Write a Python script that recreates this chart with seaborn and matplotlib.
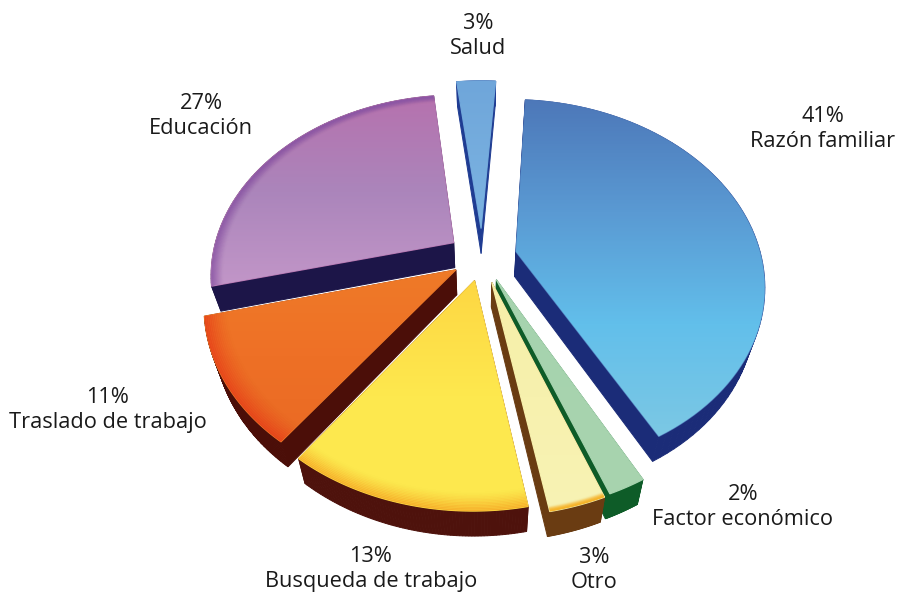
import numpy as np
import matplotlib
matplotlib.use('Agg')
import matplotlib.pyplot as plt
from matplotlib.patches import Polygon
import seaborn as sns

# Datos
categorias = ['Razón familiar', 'Factor económico', 'Otro', 'Busqueda de trabajo',
              'Traslado de trabajo', 'Educación', 'Salud']
valores = [41, 2, 3, 13, 11, 27, 3]

# Estilo de cada rebanada
explode = [0.14, 0.135, 0.14, 0.13, 0.125, 0.14, 0.16]
escala_radio = [0.985, 1.0, 1.0, 0.99, 0.98, 0.97, 1.0]
colores_cara = [['#4d78b9', '#5a9ad3', '#62bfeb', '#7cc8e4'],
                ['#a6d3ae', '#a8d4ae'],
                ['#f6efa8', '#f8f3b4'],
                ['#fdd743', '#fde84e', '#fde84e'],
                ['#ee7a28', '#ee7026', '#ea6a24'],
                ['#b672ae', '#ab85bb', '#c296c8'],
                ['#6fa6da', '#7cb4e2']]
colores_borde = [None, None, '#f5b020', '#f49a1c', '#e42c14', '#8a55a4', None]
ancho_borde = [0, 0, 0.02, 0.07, 0.09, 0.05, 0]
colores_lado = ['#1b2c78', '#0e5c28', '#6a3c12', '#4e120c', '#4b0e08', '#1c1548', '#1f3c92']
orden = [6, 5, 0, 4, 1, 2, 3]

# Etiquetas
pos_etiquetas = [(823, 129), (743, 507), (594, 570), (371, 569), (108, 410), (201, 116), (478, 36)]

CX, CY = 482, 257
RX, RY, K = 249, 182.8, 0.176
PROF = 25

def proyectar(p):
    # disco plano -> perspectiva en pixeles
    w = 1 + K * p[:, 1]
    return np.column_stack([CX + RX * p[:, 0] / w, CY - RY * p[:, 1] / w])

def extruir(q):
    return np.column_stack([q[:, 0] - (q[:, 0] - CX) * 0.035, q[:, 1] + PROF])

sns.set_theme(style='white')
plt.rcParams['font.family'] = ['Open Sans', 'DejaVu Sans']

fig = plt.figure(figsize=(9.01, 5.94), dpi=100)
ax = fig.add_axes([0, 0, 1, 1])
wedges, _ = ax.pie(valores, explode=explode, startangle=86, counterclock=False)

yy, xx = np.mgrid[0:594, 0:901]
for i in orden:
    w = wedges[i]
    w.set_visible(False)
    z = 3 + orden.index(i) * 3
    t = np.radians(np.linspace(w.theta1, w.theta2, 80))
    r = w.r * escala_radio[i]
    cx, cy = w.center
    disco = np.vstack([[cx, cy], np.column_stack([cx + r * np.cos(t), cy + r * np.sin(t)])])
    q = proyectar(disco)
    q2 = extruir(q)

    # lados
    n = len(q)
    for j in range(n):
        k = (j + 1) % n
        ax.add_patch(Polygon([q[j], q[k], q2[k], q2[j]], closed=True, fc=colores_lado[i],
                             ec=colores_lado[i], lw=0.7, zorder=z))

    # cara superior con degradado
    ax.add_patch(Polygon(q, closed=True, fc='none', ec=colores_cara[i][0], lw=0.9, zorder=z + 1))
    cara = Polygon(q, closed=True, transform=ax.transData, fc='none', ec='none')
    ax.add_patch(cara)
    g = (yy - q[:, 1].min()) / (q[:, 1].max() - q[:, 1].min())
    cmap = sns.blend_palette(colores_cara[i], as_cmap=True)
    im = ax.imshow(g, cmap=cmap, vmin=0, vmax=1, extent=(0, 901, 594, 0), aspect='auto',
                   zorder=z + 1, interpolation='bilinear')
    im.set_clip_path(cara)

    # borde exterior mas oscuro
    if colores_borde[i]:
        for d in np.linspace(0, 1, 14):
            rr = r * (1 - ancho_borde[i] * d)
            arco = proyectar(np.column_stack([cx + rr * np.cos(t), cy + rr * np.sin(t)]))
            ln, = ax.plot(arco[:, 0], arco[:, 1], color=colores_borde[i], lw=1.6,
                          alpha=0.55 * (1 - d) ** 1.5, zorder=z + 2, solid_capstyle='butt')
            ln.set_clip_path(cara)

for nombre, v, (x, y) in zip(categorias, valores, pos_etiquetas):
    ax.text(x, y, f'{v}%\n{nombre}', ha='center', va='center', fontsize=15.7, color='#1a1a1a',
            linespacing=1.26, zorder=40)

ax.set_xlim(0, 901)
ax.set_ylim(594, 0)
ax.set_aspect('auto')
ax.axis('off')
fig.savefig('out.png', dpi=100)
